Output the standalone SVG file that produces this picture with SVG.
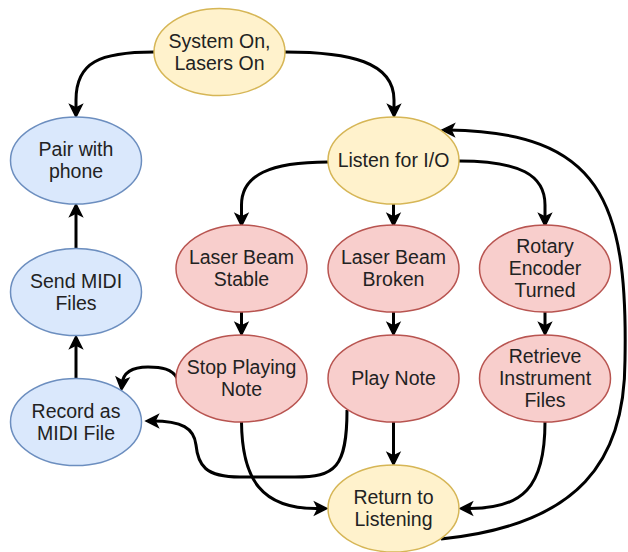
<svg xmlns="http://www.w3.org/2000/svg" width="628" height="552" viewBox="0 0 628 552">
  <defs>
    <marker id="arrow" markerUnits="userSpaceOnUse" markerWidth="12" markerHeight="12" refX="6" refY="6" orient="auto" overflow="visible">
      <path d="M0 0 L12 6 L0 12 L3 6 Z" fill="#000" stroke="#000" stroke-width="1.5" stroke-linejoin="miter"/>
    </marker>
  </defs>
  <style>
    .node ellipse { stroke-width: 1.5; }
    .yellow ellipse { fill: #fff2cc; stroke: #d6b656; }
    .blue ellipse { fill: #dae8fc; stroke: #6c8ebf; }
    .red ellipse { fill: #f8cecc; stroke: #b85450; }
    .node text { font-family: "Liberation Sans", Arial, Helvetica, sans-serif; font-size: 19.5px; fill: #222; text-anchor: middle; }
    #edges path { fill: none; stroke: #000; stroke-width: 3; marker-end: url(#arrow); }
  </style>

  <rect width="628" height="552" fill="#fff"/>

  <!-- connectors -->
  <g id="edges">
    <path d="M154 52 C100 52 76 62 76 100 L76 111"/>
    <path d="M285 52 C350 52 394 62 394 100 L394 111"/>
    <path d="M328 162 C270 162 241.5 175 241.5 205 L241.5 220"/>
    <path d="M393.5 204 L393.5 220"/>
    <path d="M459 161 C520 161 545 175 545 205 L545 220"/>
    <path d="M241.5 312 L241.5 329"/>
    <path d="M393.5 312 L393.5 329"/>
    <path d="M545 312 L545 329"/>
    <path d="M76 248.5 L76 210"/>
    <path d="M76 378 L76 342"/>
    <path d="M177 378 C172 369 162 367 148 367 C132 367 123 373 122 384"/>
    <path d="M347 410 C347 468 335 477 295 477 L240 477 C205 477 198 465 196 445 C194 428 182 421 152 421"/>
    <path d="M393.5 422 L393.5 459"/>
    <path d="M241.5 422 C242 480 262 508.5 316 508.5 L321 508.5"/>
    <path d="M545 422 C545 488 522 508.5 470 508.5 L466 508.5"/>
    <path d="M441 539 C580 525 625 460 625 360 C628 200 600 132 448 130"/>
  </g>

  <!-- nodes -->
  <g id="system-on" class="node yellow">
    <ellipse cx="219.5" cy="52" rx="65.5" ry="43.5"/>
    <text x="219.5" y="47.8">System On,</text>
    <text x="219.5" y="69.8">Lasers On</text>
  </g>
  <g id="pair-phone" class="node blue">
    <ellipse cx="76" cy="160.5" rx="65.5" ry="43.5"/>
    <text x="76" y="156.3">Pair with</text>
    <text x="76" y="178.3">phone</text>
  </g>
  <g id="listen" class="node yellow">
    <ellipse cx="393.5" cy="160.5" rx="65.5" ry="43.5"/>
    <text x="393.5" y="167.3">Listen for I/O</text>
  </g>
  <g id="send-midi" class="node blue">
    <ellipse cx="76" cy="292" rx="65.5" ry="43.5"/>
    <text x="76" y="287.8">Send MIDI</text>
    <text x="76" y="309.8">Files</text>
  </g>
  <g id="beam-stable" class="node red">
    <ellipse cx="241.5" cy="268.5" rx="65.5" ry="43.5"/>
    <text x="241.5" y="264.3">Laser Beam</text>
    <text x="241.5" y="286.3">Stable</text>
  </g>
  <g id="beam-broken" class="node red">
    <ellipse cx="393.5" cy="268.5" rx="65.5" ry="43.5"/>
    <text x="393.5" y="264.3">Laser Beam</text>
    <text x="393.5" y="286.3">Broken</text>
  </g>
  <g id="rotary" class="node red">
    <ellipse cx="545" cy="268.5" rx="65.5" ry="43.5"/>
    <text x="545" y="253.3">Rotary</text>
    <text x="545" y="275.3">Encoder</text>
    <text x="545" y="297.3">Turned</text>
  </g>
  <g id="stop-note" class="node red">
    <ellipse cx="241.5" cy="378.5" rx="65.5" ry="43.5"/>
    <text x="241.5" y="374.3">Stop Playing</text>
    <text x="241.5" y="396.3">Note</text>
  </g>
  <g id="play-note" class="node red">
    <ellipse cx="393.5" cy="378.5" rx="65.5" ry="43.5"/>
    <text x="393.5" y="385.3">Play Note</text>
  </g>
  <g id="retrieve" class="node red">
    <ellipse cx="545" cy="378.5" rx="65.5" ry="43.5"/>
    <text x="545" y="363.3">Retrieve</text>
    <text x="545" y="385.3">Instrument</text>
    <text x="545" y="407.3">Files</text>
  </g>
  <g id="record-midi" class="node blue">
    <ellipse cx="76" cy="422" rx="65.5" ry="43.5"/>
    <text x="76" y="417.8">Record as</text>
    <text x="76" y="439.8">MIDI File</text>
  </g>
  <g id="return" class="node yellow">
    <ellipse cx="393.5" cy="508.5" rx="65.5" ry="43.5"/>
    <text x="393.5" y="504.3">Return to</text>
    <text x="393.5" y="526.3">Listening</text>
  </g>
</svg>
